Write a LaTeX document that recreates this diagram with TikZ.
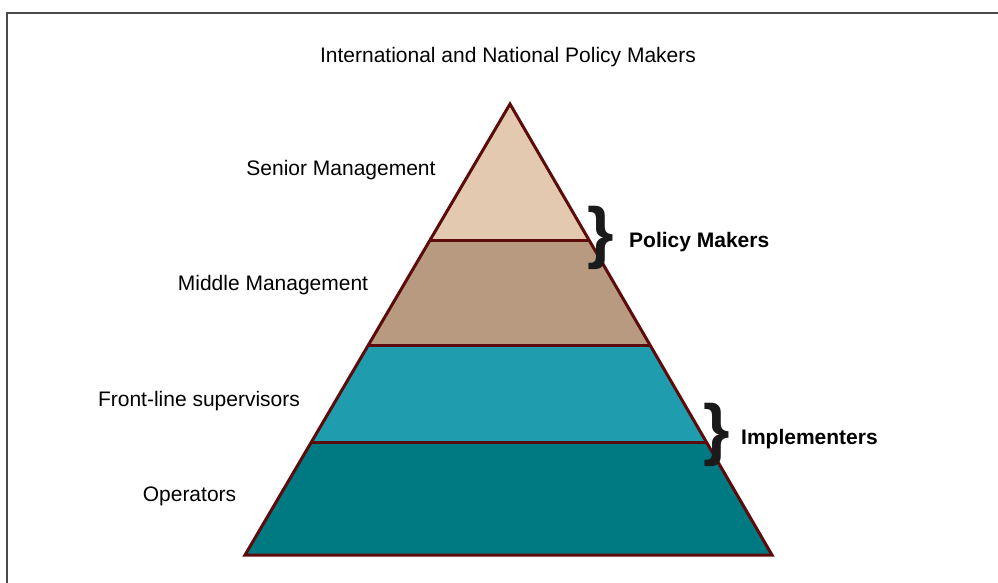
\documentclass[tikz,border=0pt]{standalone}
\usepackage{fontspec}
\setmainfont{Liberation Sans}
\usetikzlibrary{calc}
\definecolor{frameGray}{HTML}{4A4A4A}
\definecolor{edgeRed}{HTML}{5C0A0A}
\definecolor{tierA}{HTML}{E3C9AF}
\definecolor{tierB}{HTML}{B89A80}
\definecolor{tierC}{HTML}{1F9DAE}
\definecolor{tierD}{HTML}{007A82}
\definecolor{braceInk}{HTML}{1A1A1A}
\begin{document}
\begin{tikzpicture}[x=1pt,y=-1pt,
  lbl/.style={font=\fontsize{21}{25}\selectfont, anchor=base, inner sep=0pt},
  grp/.style={font=\fontsize{21}{25}\selectfont\bfseries, anchor=base west, inner sep=0pt},
  brc/.style={font=\fontsize{68}{68}\selectfont\bfseries, text=braceInk, inner sep=0pt},
  tier/.style={draw=edgeRed, line width=3pt, line join=miter}]
\useasboundingbox (0,0) rectangle (998,583);
% outer frame (open to the right and bottom)
\draw[frameGray, line width=2pt] (7,583) -- (7,13) -- (998,13);

% pyramid corners
\coordinate (apex) at (510,104);
\coordinate (bl) at (245,555);
\coordinate (br) at (772,555);
% tier boundaries on the two sides
\coordinate (l1) at ($(apex)!{137/451}!(bl)$);
\coordinate (r1) at ($(apex)!{137/451}!(br)$);
\coordinate (l2) at ($(apex)!{242/451}!(bl)$);
\coordinate (r2) at ($(apex)!{242/451}!(br)$);
\coordinate (l3) at ($(apex)!{339/451}!(bl)$);
\coordinate (r3) at ($(apex)!{339/451}!(br)$);

\fill[tierA] (apex) -- (r1) -- (l1) -- cycle;
\fill[tierB] (l1) -- (r1) -- (r2) -- (l2) -- cycle;
\fill[tierC] (l2) -- (r2) -- (r3) -- (l3) -- cycle;
\fill[tierD] (l3) -- (r3) -- (br) -- (bl) -- cycle;
\draw[tier] (apex) -- (br) -- (bl) -- cycle;
\draw[tier] (l1) -- (r1) (l2) -- (r2) (l3) -- (r3);

% level labels
\node[lbl] (top) at (508,63) {International and National Policy Makers};
\node[lbl] (senior) at (341,175.5) {Senior Management};
\node[lbl] (middle) at (273,290.5) {Middle Management};
\node[lbl] (front) at (199,406.5) {Front-line supervisors};
\node[lbl] (oper) at (189.5,501.5) {Operators};

% groupings
\node[brc] (b1) at (601,237.5) {\}};
\node[grp] (pm) at (629,247.5) {Policy Makers};
\node[brc] (b2) at (717,434.5) {\}};
\node[grp] (imp) at (741,444.5) {Implementers};
\end{tikzpicture}
\end{document}
